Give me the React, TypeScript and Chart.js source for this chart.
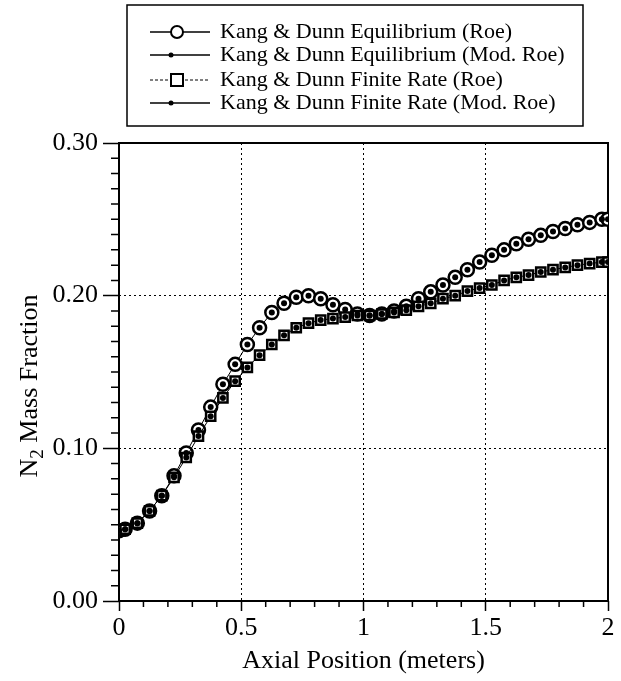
import React, { useEffect, useRef } from 'react';
import { Chart, registerables } from 'chart.js';

Chart.register(...registerables);

// Axial positions (m): boundary points plus cell centres
const positions = [
  0, 0.025, 0.075, 0.125, 0.175, 0.225, 0.275, 0.325, 0.375, 0.425, 0.475,
  0.525, 0.575, 0.625, 0.675, 0.725, 0.775, 0.825, 0.875, 0.925, 0.975,
  1.025, 1.075, 1.125, 1.175, 1.225, 1.275, 1.325, 1.375, 1.425, 1.475,
  1.525, 1.575, 1.625, 1.675, 1.725, 1.775, 1.825, 1.875, 1.925, 1.975, 2,
];

const eqRoe = [
  0.046, 0.047, 0.051, 0.059, 0.069, 0.082, 0.097, 0.112, 0.127, 0.142, 0.155,
  0.168, 0.179, 0.189, 0.195, 0.199, 0.2, 0.198, 0.194, 0.191, 0.188,
  0.187, 0.188, 0.19, 0.193, 0.198, 0.2025, 0.207, 0.212, 0.217, 0.222,
  0.2265, 0.23, 0.234, 0.237, 0.2395, 0.242, 0.244, 0.2465, 0.248, 0.25, 0.25,
];

const eqModRoe = [
  0.046, 0.047, 0.051, 0.059, 0.069, 0.082, 0.097, 0.112, 0.127, 0.142, 0.155,
  0.168, 0.179, 0.189, 0.195, 0.199, 0.2, 0.198, 0.194, 0.191, 0.188,
  0.187, 0.188, 0.19, 0.193, 0.198, 0.2025, 0.207, 0.212, 0.217, 0.222,
  0.2265, 0.23, 0.234, 0.237, 0.2395, 0.242, 0.244, 0.2465, 0.248, 0.25, 0.25,
];

const frRoe = [
  0.046, 0.047, 0.051, 0.059, 0.069, 0.081, 0.094, 0.108, 0.121, 0.133, 0.144,
  0.153, 0.161, 0.168, 0.174, 0.179, 0.182, 0.184, 0.185, 0.186, 0.187,
  0.187, 0.188, 0.189, 0.1905, 0.193, 0.195, 0.198, 0.2, 0.203, 0.205,
  0.207, 0.21, 0.212, 0.2135, 0.2155, 0.217, 0.2185, 0.22, 0.221, 0.222, 0.222,
];

const frModRoe = [
  0.046, 0.047, 0.051, 0.059, 0.069, 0.081, 0.094, 0.108, 0.121, 0.133, 0.144,
  0.153, 0.161, 0.168, 0.174, 0.179, 0.182, 0.184, 0.185, 0.186, 0.187,
  0.187, 0.188, 0.189, 0.1905, 0.193, 0.195, 0.198, 0.2, 0.203, 0.205,
  0.207, 0.21, 0.212, 0.2135, 0.2155, 0.217, 0.2185, 0.22, 0.221, 0.222, 0.222,
];

const xTicks = [0, 0.5, 1, 1.5, 2];
const xTickLabels = ['0', '0.5', '1', '1.5', '2'];
const yTicks = [0, 0.1, 0.2, 0.3];
const yTickLabels = ['0.00', '0.10', '0.20', '0.30'];
const xMinorStep = 0.1;
const yMinorStep = 0.01;

const legendLabels = [
  'Kang & Dunn Equilibrium (Roe)',
  'Kang & Dunn Equilibrium (Mod. Roe)',
  'Kang & Dunn Finite Rate (Roe)',
  'Kang & Dunn Finite Rate (Mod. Roe)',
];
const xTitle = 'Axial Position (meters)';
const yTitleMain = 'N';
const yTitleSub = '2';
const yTitleRest = ' Mass Fraction';

const FONT = '"Liberation Serif", "Times New Roman", Times, serif';

const toPoints = (ys: number[]) => positions.map((x, i) => ({ x, y: ys[i] }));

const decorPlugin = {
  id: 'decor',
  beforeDatasetsDraw(chart: any) {
    const { ctx, chartArea: a } = chart;
    const xs = chart.scales.x;
    const ys = chart.scales.y;
    ctx.save();
    ctx.strokeStyle = '#000';
    // minor ticks
    ctx.lineWidth = 1.5;
    ctx.beginPath();
    const nx = Math.round((xs.max - xs.min) / xMinorStep);
    for (let i = 1; i < nx; i++) {
      if (i % 5 === 0) continue;
      const px = xs.getPixelForValue(xs.min + i * xMinorStep);
      ctx.moveTo(px, a.bottom);
      ctx.lineTo(px, a.bottom + 6);
    }
    const ny = Math.round((ys.max - ys.min) / yMinorStep);
    for (let i = 1; i < ny; i++) {
      if (i % 10 === 0) continue;
      const py = ys.getPixelForValue(ys.min + i * yMinorStep);
      ctx.moveTo(a.left - 8, py);
      ctx.lineTo(a.left, py);
    }
    ctx.stroke();
    // frame
    ctx.lineWidth = 2;
    ctx.strokeRect(a.left, a.top, a.right - a.left, a.bottom - a.top);
    ctx.restore();
  },
  afterDraw(chart: any) {
    const { ctx, chartArea: a } = chart;
    ctx.save();
    ctx.fillStyle = '#000';
    ctx.strokeStyle = '#000';
    // x title
    ctx.font = `26px ${FONT}`;
    ctx.textAlign = 'center';
    ctx.textBaseline = 'middle';
    ctx.fillText(xTitle, (a.left + a.right) / 2, 661);
    // y title with subscript
    ctx.save();
    ctx.translate(29, (a.top + a.bottom) / 2 + 14);
    ctx.rotate(-Math.PI / 2);
    ctx.textAlign = 'left';
    ctx.textBaseline = 'alphabetic';
    const mainFont = `26px ${FONT}`;
    const subFont = `19px ${FONT}`;
    ctx.font = mainFont;
    const wN = ctx.measureText(yTitleMain).width;
    ctx.font = subFont;
    const wS = ctx.measureText(yTitleSub).width;
    ctx.font = mainFont;
    const wR = ctx.measureText(yTitleRest).width;
    const total = wN + wS + wR;
    let x0 = -total / 2;
    ctx.fillText(yTitleMain, x0, 8);
    x0 += wN;
    ctx.font = subFont;
    ctx.fillText(yTitleSub, x0, 14);
    x0 += wS;
    ctx.font = mainFont;
    ctx.fillText(yTitleRest, x0, 8);
    ctx.restore();

    // legend box
    const bx = 127, by = 5, bw = 456, bh = 121;
    ctx.fillStyle = '#fff';
    ctx.fillRect(bx, by, bw, bh);
    ctx.lineWidth = 1.5;
    ctx.strokeRect(bx, by, bw, bh);
    const rowsY = [32, 55, 80, 103];
    ctx.font = `22px ${FONT}`;
    ctx.textAlign = 'left';
    ctx.textBaseline = 'middle';
    legendLabels.forEach((label, i) => {
      const y = rowsY[i];
      ctx.strokeStyle = '#000';
      ctx.lineWidth = i === 2 ? 1 : 1.5;
      ctx.setLineDash(i === 2 ? [3, 2] : []);
      ctx.beginPath();
      ctx.moveTo(150, y);
      ctx.lineTo(210, y);
      ctx.stroke();
      ctx.setLineDash([]);
      const mx = 177;
      ctx.lineWidth = 2;
      if (i === 0) {
        ctx.fillStyle = '#fff';
        ctx.beginPath();
        ctx.arc(mx, y, 6, 0, Math.PI * 2);
        ctx.fill();
        ctx.stroke();
      } else if (i === 2) {
        ctx.fillStyle = '#fff';
        ctx.fillRect(mx - 6, y - 6, 12, 12);
        ctx.strokeRect(mx - 6, y - 6, 12, 12);
      } else {
        ctx.fillStyle = '#000';
        ctx.beginPath();
        ctx.arc(mx - 6, y, 2.5, 0, Math.PI * 2);
        ctx.fill();
      }
      ctx.fillStyle = '#000';
      ctx.fillText(label, 220, y);
    });
    ctx.restore();
  },
};

export default function App() {
  const canvasRef = useRef<HTMLCanvasElement | null>(null);

  useEffect(() => {
    if (!canvasRef.current) return;
    const chart = new Chart(canvasRef.current, {
      type: 'scatter',
      data: {
        datasets: [
          {
            label: legendLabels[1],
            data: toPoints(eqModRoe),
            showLine: false,
            pointStyle: 'circle',
            pointRadius: 3,
            pointBorderWidth: 0,
            pointBackgroundColor: '#000',
            pointBorderColor: '#000',
            order: 0,
          },
          {
            label: legendLabels[3],
            data: toPoints(frModRoe),
            showLine: false,
            pointStyle: 'circle',
            pointRadius: 3,
            pointBorderWidth: 0,
            pointBackgroundColor: '#000',
            pointBorderColor: '#000',
            order: 1,
          },
          {
            label: legendLabels[2],
            data: toPoints(frRoe),
            showLine: true,
            borderColor: '#000',
            borderWidth: 1,
            pointStyle: 'rect',
            pointRadius: 6.5,
            pointBorderWidth: 2.5,
            pointBackgroundColor: '#fff',
            pointBorderColor: '#000',
            order: 2,
          },
          {
            label: legendLabels[0],
            data: toPoints(eqRoe),
            showLine: true,
            borderColor: '#000',
            borderWidth: 1,
            pointStyle: 'circle',
            pointRadius: 6.5,
            pointBorderWidth: 2.5,
            pointBackgroundColor: '#fff',
            pointBorderColor: '#000',
            order: 3,
          },
        ],
      },
      options: {
        animation: false,
        responsive: true,
        maintainAspectRatio: false,
        layout: { padding: { top: 143, right: 13, left: 0, bottom: 0 } },
        plugins: {
          legend: { display: false },
          tooltip: { enabled: false },
        },
        scales: {
          x: {
            type: 'linear',
            min: 0,
            max: 2,
            afterBuildTicks: (scale: any) => {
              scale.ticks = xTicks.map((v) => ({ value: v }));
            },
            afterFit: (scale: any) => {
              scale.height = 80;
            },
            ticks: {
              color: '#000',
              font: { family: FONT, size: 26 },
              padding: 2,
              maxRotation: 0,
              autoSkip: false,
              callback: (v: any) => {
                const i = xTicks.indexOf(Number(v));
                return i >= 0 ? xTickLabels[i] : '';
              },
            },
            grid: {
              color: '#000',
              lineWidth: 1,
              drawTicks: true,
              tickLength: 10,
              tickColor: '#000',
              tickWidth: 1.5,
              tickBorderDash: [],
            },
            border: { display: false, dash: [2, 3] },
          },
          y: {
            type: 'linear',
            min: 0,
            max: 0.3,
            afterBuildTicks: (scale: any) => {
              scale.ticks = yTicks.map((v) => ({ value: v }));
            },
            afterFit: (scale: any) => {
              scale.width = 119;
            },
            ticks: {
              color: '#000',
              font: { family: FONT, size: 26 },
              padding: 5,
              autoSkip: false,
              callback: (v: any) => {
                const i = yTicks.findIndex((t) => Math.abs(t - Number(v)) < 1e-9);
                return i >= 0 ? yTickLabels[i] : '';
              },
            },
            grid: {
              color: '#000',
              lineWidth: 1,
              drawTicks: true,
              tickLength: 16,
              tickColor: '#000',
              tickWidth: 1.5,
              tickBorderDash: [],
            },
            border: { display: false, dash: [2, 3] },
          },
        },
      },
      plugins: [decorPlugin],
    });
    return () => chart.destroy();
  }, []);

  return (
    <div style={{ position: 'fixed', left: 0, top: 0, width: 621, height: 681, background: '#fff' }}>
      <canvas ref={canvasRef} />
    </div>
  );
}
